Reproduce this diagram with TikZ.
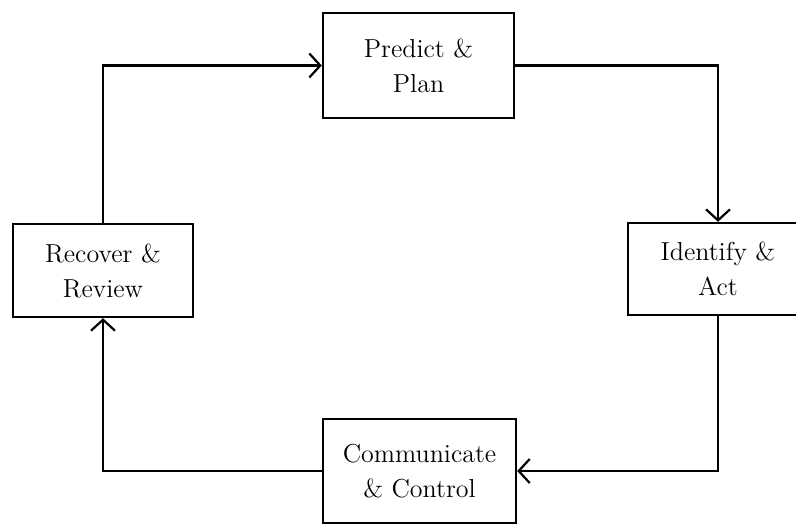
\documentclass[tikz,border=0pt]{standalone}
\usetikzlibrary{arrows.meta}
\begin{document}
\begin{tikzpicture}[x=0.5pt,y=-0.5pt,
  stagebox/.style={draw, line width=1.2pt, rectangle, align=center, inner sep=0pt,
    font=\fontsize{13}{17.5}\selectfont},
  flow/.style={line width=1.2pt, -{Straight Barb[length=5.5pt,width=12pt,line width=1.1pt]}}]
  \useasboundingbox (0,0) rectangle (796,525);

  % the four stages of the cycle
  \node[stagebox, minimum width=95.5pt, minimum height=52.5pt] (pred) at (418.5,65.5) {Predict \&\\Plan};
  \node[stagebox, minimum width=90pt, minimum height=46pt] (ident) at (718,269) {Identify \&\\Act};
  \node[stagebox, minimum width=96.5pt, minimum height=52pt] (comm) at (419.5,471) {Communicate\\\& Control};
  \node[stagebox, minimum width=90pt, minimum height=46.5pt] (rec) at (103,270.5) {Recover \&\\Review};

  % clockwise connectors
  \draw[flow] (rec.north) |- (pred.west);
  \draw[flow] (pred.east) -| (ident.north);
  \draw[flow] (ident.south) |- (comm.east);
  \draw[flow] (comm.west) -| (rec.south);
\end{tikzpicture}
\end{document}
